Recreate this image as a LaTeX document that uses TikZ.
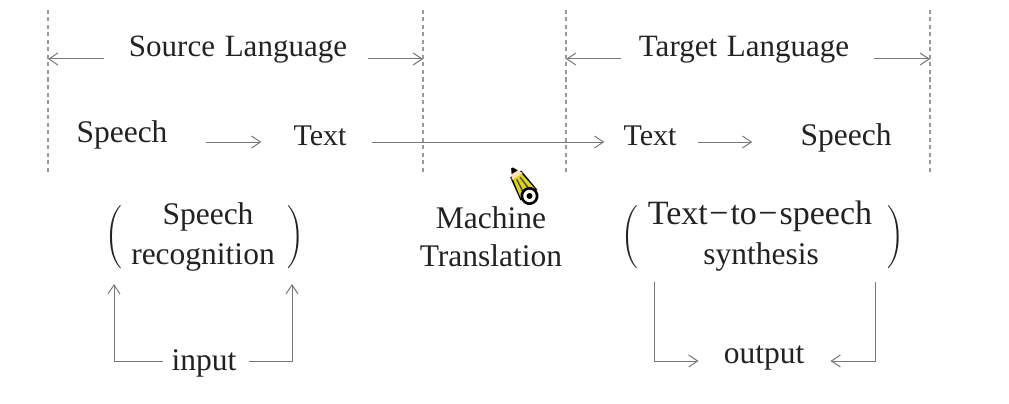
\documentclass[tikz,border=0pt]{standalone}
\usepackage{fontspec}
\setmainfont{Liberation Serif}
\usetikzlibrary{arrows.meta}
\definecolor{ink}{HTML}{222222}
\definecolor{rule}{HTML}{777777}
\tikzset{
  lbl/.style={anchor=base,inner sep=0pt,text=ink,font=\fontsize{31.5}{38}\selectfont},
  guide/.style={draw=rule!75,line width=1.2pt,dash pattern=on 4pt off 3.5pt},
  arr/.style={draw=rule,line width=1pt,-{Straight Barb[length=9pt,width=12pt,line width=1pt]}},
  paren/.style={anchor=center,inner sep=0pt,text=ink}
}
\begin{document}
\begin{tikzpicture}[x=1pt,y=-1pt]
\useasboundingbox (0,0) rectangle (1009,404);
% guides
\coordinate (g1t) at (48,10);  \coordinate (g1b) at (48,175);
\coordinate (g2t) at (423,10); \coordinate (g2b) at (423,175);
\coordinate (g3t) at (566,10); \coordinate (g3b) at (566,175);
\coordinate (g4t) at (930,10); \coordinate (g4b) at (930,175);
\foreach \g in {1,2,3,4} \draw[guide] (g\g t) -- (g\g b);
% rows
\coordinate (rowT) at (0,59);
\coordinate (rowA) at (0,142);
\coordinate (rowI) at (0,361);
\coordinate (rowO) at (0,361);
% labels
\node[lbl,font=\fontsize{31}{37}\selectfont] (source) at (238,57) {Source\hspace{2pt} Language};
\node[lbl,font=\fontsize{31}{37}\selectfont] (target) at (744,57) {Target\hspace{2pt} Language};
\node[lbl] (speechA) at (122,142) {Speech};
\node[lbl,font=\fontsize{30}{36}\selectfont] (textA) at (320,145) {Text};
\node[lbl,font=\fontsize{30}{36}\selectfont] (textB) at (650,145) {Text};
\node[lbl] (speechB) at (846,145) {Speech};
\node[lbl] (sr1) at (208,224) {Speech};
\node[lbl] (sr2) at (203,264) {recognition};
\node[lbl] (mt1) at (491,228) {Machine};
\node[lbl] (mt2) at (491,266) {Translation};
\node[lbl,font=\fontsize{34}{40}\selectfont] (tts1) at (760,224) {Text\kern1.5pt−\kern2pt to\kern1.5pt−\kern2pt speech};
\node[lbl] (tts2) at (761,264) {synthesis};
\node[lbl] (input) at (204,370) {input};
\node[lbl] (output) at (764,363) {output};
% parentheses
\node[paren] (pl1) at (114,237) {\scalebox{2.1}{$\Bigg($}};
\node[paren] (pr1) at (296,237) {\scalebox{2.1}{$\Bigg)$}};
\node[paren] (pl2) at (630,237) {\scalebox{2.1}{$\Bigg($}};
\node[paren] (pr2) at (896,237) {\scalebox{2.1}{$\Bigg)$}};
% top span arrows
\draw[arr,shorten <=25pt] (source.west |- rowT) -- (g1t |- rowT);
\draw[arr,shorten <=21pt] (source.east |- rowT) -- (g2t |- rowT);
\draw[arr,shorten <=18pt] (target.west |- rowT) -- (g3t |- rowT);
\draw[arr,shorten <=25pt] (target.east |- rowT) -- (g4t |- rowT);
% middle row
\draw[arr,shorten <=38pt,shorten >=32pt] (speechA.east |- rowA) -- (textA.west |- rowA);
\draw[arr,shorten <=25pt,shorten >=19pt] (textA.east |- rowA) -- (textB.west |- rowA);
\draw[arr,shorten <=21pt,shorten >=48pt] (textB.east |- rowA) -- (speechB.west |- rowA);
% input
\coordinate (inL) at (114,284);
\coordinate (inR) at (292,284);
\draw[arr,shorten <=8pt] (input.west |- rowI) -| (inL);
\draw[arr,shorten <=12pt] (input.east |- rowI) -| (inR);
% output
\coordinate (outL) at (654,282);
\coordinate (outR) at (875,282);
\draw[arr,shorten >=25pt] (outL) |- (output.west |- rowO);
\draw[arr,shorten >=26pt] (outR) |- (output.east |- rowO);
% pencil cursor
\begin{scope}[shift={(512,168)},rotate=-58]
  \fill[black] (7,-6.5) -- (32,-10) -- (32,10) -- (7,6.5) -- cycle;
  \fill[yellow!85!black] (9,-5) -- (30,-8.5) -- (30,8.5) -- (9,5) -- cycle;
  \fill[black!70] (12,-2.6) -- (28,-4.3) -- (28,-2.6) -- (12,-1.4) -- cycle;
  \fill[black!70] (12,1.4) -- (28,2.6) -- (28,4.3) -- (12,2.6) -- cycle;
  \fill[orange!25] (4,-3.2) -- (10,-6.5) -- (10,6.5) -- (4,3.2) -- cycle;
  \fill[black] (0,-1) -- (5,-3.6) -- (5,3.6) -- (0,1) -- cycle;
  \fill[black] (33,0) circle[radius=9];
  \fill[white!95!yellow] (33,0) circle[radius=6.2];
  \fill[black] (33,0) circle[radius=3];
\end{scope}
\end{tikzpicture}
\end{document}
